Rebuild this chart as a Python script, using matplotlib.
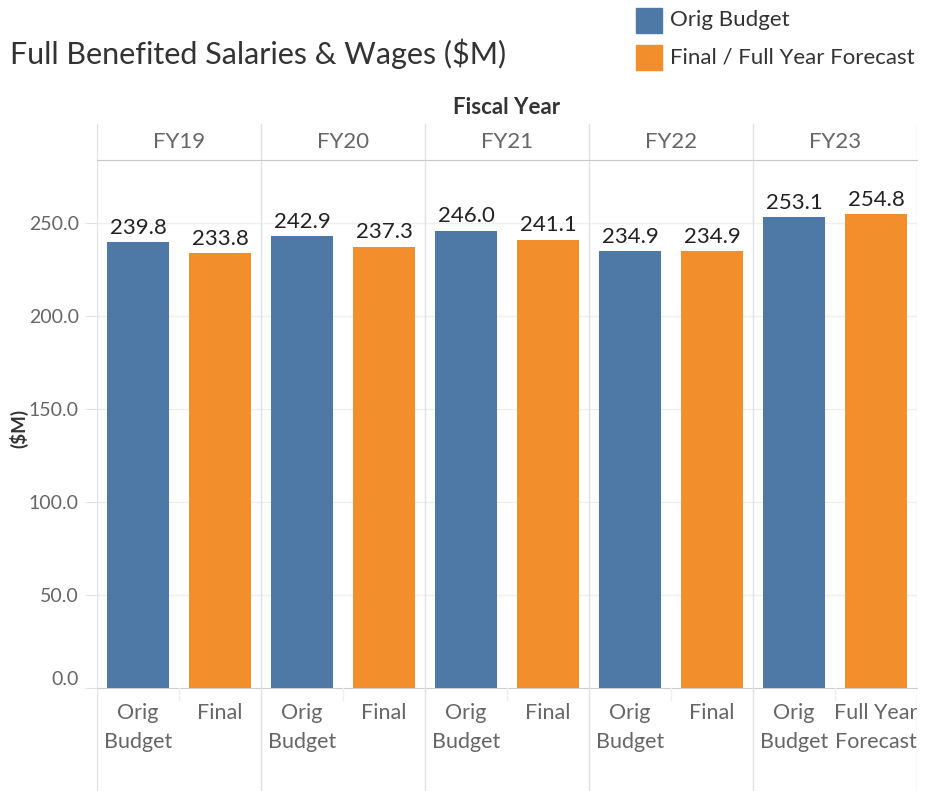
import matplotlib.pyplot as plt
from matplotlib.patches import Rectangle

plt.rcParams['font.family'] = ['Lato', 'DejaVu Sans']

years = ["FY19", "FY20", "FY21", "FY22", "FY23"]
orig_budget = [239.8, 242.9, 246.0, 234.9, 253.1]
final_fcst = [233.8, 237.3, 241.1, 234.9, 254.8]
final_labels = ["Final", "Final", "Final", "Final", "Full Year\nForecast"]
yticks = [0, 50, 100, 150, 200, 250]

BLUE = "#4E79A7"
ORANGE = "#F28E2B"
GRAY = "#666666"
LINE = "#e2e2e2"

W, H = 932, 791
fig = plt.figure(figsize=(W / 100, H / 100), dpi=100)

def fx(px):
    return px / W

def fy(py):
    return 1 - py / H

left, right = fx(97), fx(917)
top, bottom = fy(160), fy(688)

ax = fig.add_axes([left, bottom, right - left, top - bottom])
n = len(years)
for i in range(n):
    ax.bar(2 * i + 0.5, orig_budget[i], width=0.76, color=BLUE, zorder=3)
    ax.bar(2 * i + 1.5, final_fcst[i], width=0.76, color=ORANGE, zorder=3)
    ax.text(2 * i + 0.5, orig_budget[i] + 2.5, f"{orig_budget[i]:.1f}", ha="center", va="bottom",
            fontsize=16, color="#222222")
    ax.text(2 * i + 1.5, final_fcst[i] + 2.5, f"{final_fcst[i]:.1f}", ha="center", va="bottom",
            fontsize=16, color="#222222")
ax.set_xlim(0, 2 * n)
ax.set_ylim(0, 284)
ax.set_xticks([])
ax.set_yticks(yticks)
ax.set_yticklabels([f"{v:.1f}" for v in yticks], fontsize=14, color=GRAY)
ax.tick_params(axis="y", length=9, color=LINE, pad=4)
for v in yticks[1:]:
    ax.axhline(v, color="#efefef", lw=1, zorder=0)
for b in range(0, 2 * n + 1, 2):
    ax.axvline(b, color=LINE, lw=1, zorder=1)
for s in ["top", "right", "left"]:
    ax.spines[s].set_visible(False)
ax.spines["bottom"].set_color("#cccccc")
ax.spines["top"].set_visible(True)
ax.spines["top"].set_color("#c8c8c8")
# nudge 0.0 label up like the original
ax.get_yticklabels()[0].set_va("bottom")
fig.text(fx(19), fy(428), "($M)", rotation=90, ha="center", va="center",
         fontsize=13.5, fontweight="bold", color="#333333")

# header
hax = fig.add_axes([left, top, right - left, fy(124) - top])
hax.set_xlim(0, 2 * n)
hax.set_ylim(0, 1)
hax.axis("off")
for b in range(0, 2 * n + 1, 2):
    hax.axvline(b, color=LINE, lw=1)
for i, y in enumerate(years):
    hax.text(2 * i + 1, 0.5, y, ha="center", va="center", fontsize=16, color=GRAY)
fig.text((left + right) / 2, fy(107), "Fiscal Year", ha="center", va="center",
         fontsize=16, fontweight="bold", color="#333333")

# footer
bax = fig.add_axes([left, 0, right - left, bottom])
bax.set_xlim(0, 2 * n)
bax.set_ylim(0, 1)
bax.axis("off")
for b in range(0, 2 * n + 1, 2):
    bax.axvline(b, color=LINE, lw=1)
for i in range(n):
    bax.plot([2 * i + 1, 2 * i + 1], [1, 0.88], color="#efefef", lw=1)
    bax.text(2 * i + 0.5, 0.85, "Orig\nBudget", ha="center", va="top", fontsize=15.5,
             color=GRAY, linespacing=1.55)
    bax.text(2 * i + 1.5, 0.85, final_labels[i], ha="center", va="top", fontsize=15.5,
             color=GRAY, linespacing=1.55)

# title
fig.text(fx(10), fy(54), "Full Benefited Salaries & Wages ($M)", ha="left", va="center",
         fontsize=22, color="#333333")

# legend
for k, (c, lab) in enumerate([(BLUE, "Orig Budget"), (ORANGE, "Final / Full Year Forecast")]):
    y0 = 8 + k * 37
    fig.patches.append(Rectangle((fx(636), fy(y0 + 25)), fx(26), 25 / H, color=c,
                                 transform=fig.transFigure))
    fig.text(fx(670), fy(y0 + 12.5), lab, ha="left", va="center", fontsize=16, color="#333333")

fig.savefig("out.png", dpi=100)
